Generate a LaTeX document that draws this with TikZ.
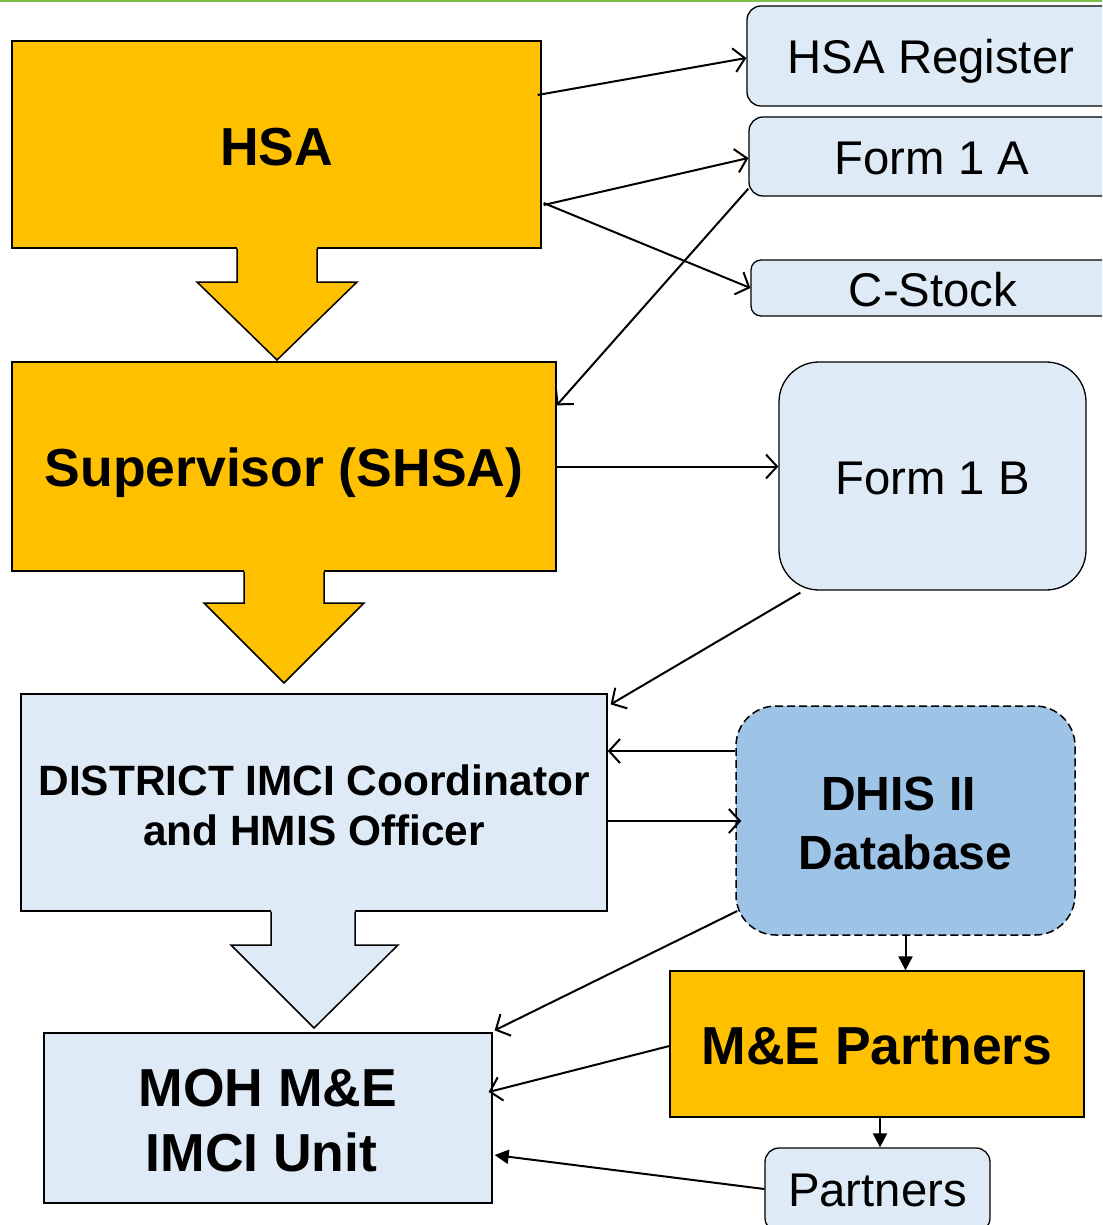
\documentclass[tikz,border=0pt]{standalone}
\usepackage{fontspec}
\setmainfont{Liberation Sans}
\usetikzlibrary{arrows.meta,calc}
\definecolor{orangebox}{HTML}{FFC000}
\definecolor{lightbox}{HTML}{DEEBF7}
\definecolor{dhisbox}{HTML}{9DC3E6}
\definecolor{topgreen}{HTML}{7CBF4C}
\tikzset{
  box/.style={draw=black, line width=1.3pt, inner sep=0pt, align=center},
  orangerect/.style={box, fill=orangebox},
  bluerect/.style={box, fill=lightbox},
  bluerounded/.style={box, fill=lightbox, rounded corners=14pt},
  conn/.style={draw, line width=2pt, -{Straight Barb[length=11pt,width=24pt,line width=2pt]}},
  fconn/.style={draw, line width=2pt, -{Triangle[length=14pt,width=14pt]}},
  blockarrow/.style={line width=1.5pt, line join=miter},
  bigbold/.style={font=\fontsize{53.5}{65}\selectfont\bfseries},
  midbold/.style={font=\fontsize{48}{59}\selectfont\bfseries},
  smallbold/.style={font=\fontsize{42.4}{50.5}\selectfont\bfseries},
  plain/.style={font=\fontsize{47.3}{56}\selectfont},
  base/.style={text height=#1, text depth=0pt}
}
\begin{document}
\begin{tikzpicture}[x=1pt,y=-1pt]
\useasboundingbox (0,0) rectangle (1102,1225);
\clip (0,0) rectangle (1102,1225);
\draw[topgreen, line width=2pt] (0,1) -- (1102,1);

% left column
\node[orangerect, bigbold, base=42pt, minimum width=529pt, minimum height=207pt] (hsa) at (276.5,144.5) {HSA};
\node[orangerect, bigbold, base=40pt, minimum width=544pt, minimum height=209pt] (sup) at (284,466.5) {Supervisor (SHSA)};
\node[bluerect, smallbold, minimum width=586pt, minimum height=217pt] (dist) at (314,802.5) {\rule{0pt}{36pt}DISTRICT IMCI Coordinator\\and HMIS Officer};
\node[bluerect, bigbold, minimum width=448pt, minimum height=170pt] (moh) at (268,1118) {\rule{0pt}{43pt}MOH M\&E\\IMCI Unit\hspace*{13pt}};

% right column
\node[bluerounded, plain, base=35.6pt, minimum width=368pt, minimum height=100pt] (hsareg) at (931,56) {HSA Register};
\node[bluerounded, plain, base=36.6pt, minimum width=366pt, minimum height=79pt] (f1a) at (932,156.5) {Form 1 A};
\node[bluerounded, plain, base=37.6pt, rounded corners=10pt, minimum width=364pt, minimum height=56pt] (cst) at (933,288) {C-Stock};
\node[bluerounded, plain, base=37.6pt, rounded corners=40pt, minimum width=307pt, minimum height=228pt] (f1b) at (932.5,476) {Form 1 B};
\node[box, midbold, fill=dhisbox, dash pattern=on 8pt off 4pt, line width=1.5pt, rounded corners=40pt, minimum width=339pt, minimum height=229pt] (dhis) at (905.5,820.5) {\rule{0pt}{39pt}DHIS II\hspace*{14pt}\\Database};
\node[orangerect, bigbold, base=41pt, minimum width=414pt, minimum height=146pt] (me) at (877,1044) {M\&E Partners};
\node[bluerounded, plain, base=33.6pt, minimum width=225pt, minimum height=84pt] (part) at (877.5,1190) {Partners};

% block arrows
\fill[orangebox] (237,247) -- (237,282) -- (197,282) -- (277,360) -- (357,282) -- (317,282) -- (317,247) -- cycle;
\draw[blockarrow] (237,248.6) -- (237,282) -- (197,282) -- (277,360) -- (357,282) -- (317,282) -- (317,248.6);
\fill[orangebox] (244,570) -- (244,603) -- (204,603) -- (284,683) -- (364,603) -- (324,603) -- (324,570) -- cycle;
\draw[blockarrow] (244,571.6) -- (244,603) -- (204,603) -- (284,683) -- (364,603) -- (324,603) -- (324,571.6);
\fill[lightbox] (271,910) -- (271,945) -- (231,945) -- (314,1028) -- (398,945) -- (355,945) -- (355,910) -- cycle;
\draw[blockarrow] (271,911.6) -- (271,945) -- (231,945) -- (314,1028) -- (398,945) -- (355,945) -- (355,911.6);

% connectors
\draw[conn] ($(hsa.east)+(-4,-49.5)$) -- ($(hsareg.west)+(0,2)$);
\draw[conn] ($(hsa.east)+(2,60.5)$) -- ($(f1a.west)+(0,1.5)$);
\draw[conn] ($(hsa.east)+(2,58.5)$) -- (cst.west);
\draw[conn] ($(f1a.south west)+(0,-8)$) -- ($(sup.north east)+(0,44)$);
\draw[conn] (sup.east) -- (sup.east -| f1b.west);
\draw[conn] ($(f1b.south west)+(22,2)$) -- ($(dist.north east)+(3,11)$);
\draw[conn] ($(dhis.west)+(0,-69.5)$) coordinate (dA) -- (dA -| dist.east);
\draw[conn] ($(dist.east)+(0,18.5)$) coordinate (dB) -- ($(dB -| dhis.west)+(6,0)$);
\draw[conn] ($(dhis.west)+(2,90.5)$) -- ($(moh.north east)+(2,-2)$);
\draw[fconn] (dhis.south) -- (dhis.south |- me.north);
\draw[conn] ($(me.west)+(0,2)$) -- ($(moh.east)+(-4,-26)$);
\draw[fconn] ($(me.south)+(3,0)$) -- ($(part.north)+(2.5,0)$);
\draw[fconn] ($(part.west)+(0,-1)$) -- ($(moh.east)+(2,37)$);
\end{tikzpicture}
\end{document}
